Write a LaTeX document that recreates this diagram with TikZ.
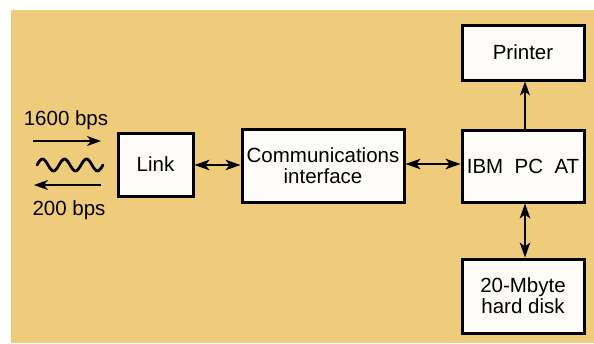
\documentclass[tikz,border=0pt]{standalone}
\usepackage{fontspec}
\setmainfont{Liberation Sans}
\usetikzlibrary{arrows.meta}
\definecolor{bgtan}{RGB}{239,204,124}
\definecolor{boxfill}{RGB}{253,252,248}
\tikzset{
  blockbox/.style={draw=black, line width=3pt, fill=boxfill, align=center, inner sep=0pt, font=\fontsize{20.5}{23}\selectfont},
  tip/.style={Stealth[length=14pt,width=10pt,inset=4pt]},
  conn/.style={line width=1.8pt, {Stealth[length=15pt,width=10.5pt,inset=4pt]}-{Stealth[length=15pt,width=10.5pt,inset=4pt]}},
  oneway/.style={line width=1.8pt, -{Stealth[length=14pt,width=10pt,inset=4pt]}},
  lbl/.style={font=\fontsize{20.5}{23}\selectfont, inner sep=0pt}
}
\begin{document}
\begin{tikzpicture}[x=1pt,y=-1pt]
\useasboundingbox (0,0) rectangle (594,343);
\fill[white] (0,0) rectangle (594,343);
\fill[bgtan] (11,10) rectangle (594,343);

\node[blockbox, minimum width=75pt, minimum height=63pt] (link) at (155.5,164.5) {Link};
\node[blockbox, minimum width=162pt, minimum height=73pt] (comm) at (323,166) {Communications\\[-2pt]interface};
\node[blockbox, minimum width=122pt, minimum height=72pt] (ibm) at (523,166) {IBM\ \ PC\ \ AT};
\node[blockbox, minimum width=122pt, minimum height=55pt] (printer) at (523,52.5) {Printer};
\node[blockbox, minimum width=122pt, minimum height=74pt] (disk) at (523,296) {20-Mbyte\\[-2pt]hard\ disk};

\draw[conn] (link.east |- 0,165) -- (comm.west |- 0,165);
\draw[conn] (comm.east |- 0,164) -- (ibm.west |- 0,164);
\draw[oneway] (ibm.north -| 525,0) -- (printer.south -| 525,0);
\draw[conn] (ibm.south -| 525,0) -- (disk.north -| 525,0);

\node[lbl] (fast) at (66,120) {1600 bps};
\node[lbl] (slow) at (69,210) {200 bps};
\coordinate (a1s) at (33,141);
\coordinate (a1e) at (101,141);
\coordinate (a2s) at (101,185);
\coordinate (a2e) at (34,185);
\draw[oneway] (a1s) -- (a1e);
\draw[oneway] (a2s) -- (a2e);
\coordinate (w0) at (37,165);
\draw[line width=2.8pt, line cap=round] (w0) \foreach \k in {1,...,3} { -- ++(0,0) sin ++(5.5,-6) cos ++(5.5,6) sin ++(5.5,6) cos ++(5.5,-6) };
\end{tikzpicture}
\end{document}
